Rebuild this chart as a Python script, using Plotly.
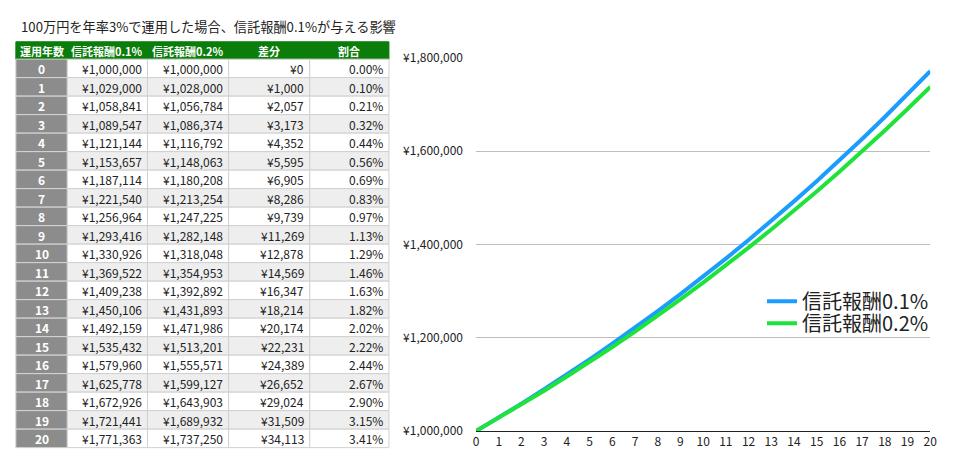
import plotly.graph_objects as go

years = list(range(21))
fee01 = [1000000, 1029000, 1058841, 1089547, 1121144, 1153657, 1187114, 1221540, 1256964, 1293416,
         1330926, 1369522, 1409238, 1450106, 1492159, 1535432, 1579960, 1625778, 1672926, 1721441, 1771363]
fee02 = [1000000, 1028000, 1056784, 1086374, 1116792, 1148063, 1180208, 1213254, 1247225, 1282148,
         1318048, 1354953, 1392892, 1431893, 1471986, 1513201, 1555571, 1599127, 1643903, 1689932, 1737250]
diff = [0, 1000, 2057, 3173, 4352, 5595, 6905, 8286, 9739, 11269,
        12878, 14569, 16347, 18214, 20174, 22231, 24389, 26652, 29024, 31509, 34113]
ratio = [0.00, 0.10, 0.21, 0.32, 0.44, 0.56, 0.69, 0.83, 0.97, 1.13,
         1.29, 1.46, 1.63, 1.82, 2.02, 2.22, 2.44, 2.67, 2.90, 3.15, 3.41]
headers = ["運用年数", "信託報酬0.1%", "信託報酬0.2%", "差分", "割合"]
series_names = ["信託報酬0.1%", "信託報酬0.2%"]
title = "100万円を年率3%で運用した場合、信託報酬0.1%が与える影響"
ytick_vals = [1000000, 1200000, 1400000, 1600000, 1800000]

W, H = 960, 466
FONT = "Noto Sans CJK JP"

def yen(v):
    return "¥{:,}".format(v)

def px_x(x):
    return x / W

def px_y(y):
    return (H - y) / H

fig = go.Figure()

colors = ["#1a9dfc", "#1ee33a"]
legend_ids = ["legend", "legend2"]
for name, vals, c, lg in zip(series_names, [fee01, fee02], colors, legend_ids):
    fig.add_trace(go.Scatter(
        x=years, y=vals, mode="lines", name=name, legend=lg,
        line=dict(color=c, width=4),
    ))

# ---- table drawn with shapes + annotations ----
col_edges = [13, 65, 146, 228, 310, 390]
head_top, head_bot = 33, 51
row_h = 19.2
shapes = []
annotations = []

def rect(x0, y0, x1, y1, fill, line):
    shapes.append(dict(type="rect", xref="paper", yref="paper",
                       x0=px_x(x0), x1=px_x(x1), y0=px_y(y1), y1=px_y(y0),
                       fillcolor=fill, line=dict(color=line, width=1), layer="below"))

def text(t, x, y, anchor, size, color, bold=False):
    annotations.append(dict(text=("<b>%s</b>" % t) if bold else t,
                            xref="paper", yref="paper", x=px_x(x), y=px_y(y),
                            xanchor=anchor, yanchor="middle", showarrow=False,
                            font=dict(family=FONT, size=size, color=color)))

rect(col_edges[0], head_top, col_edges[-1], head_bot, "#0b7d0b", "#0b7d0b")
for j, h in enumerate(headers):
    cx = (col_edges[j] + col_edges[j + 1]) / 2
    text(h, cx, (head_top + head_bot) / 2 + 0.5, "center", 11, "white", bold=True)

columns = [
    [str(y) for y in years],
    [yen(v) for v in fee01],
    [yen(v) for v in fee02],
    [yen(v) for v in diff],
    ["%.2f%%" % r for r in ratio],
]
for i in range(len(years)):
    y0 = head_bot + row_h * i
    y1 = y0 + row_h
    fill = "#ffffff" if i % 2 == 0 else "#eeeeee"
    for j in range(5):
        x0, x1 = col_edges[j], col_edges[j + 1]
        if j == 0:
            rect(x0, y0, x1, y1, "#8c8c8c", "#d4d4d4")
            text(columns[j][i], (x0 + x1) / 2, (y0 + y1) / 2 + 0.5, "center", 12, "white", bold=True)
        else:
            rect(x0, y0, x1, y1, fill, "#d0d0d0")
            text(columns[j][i], x1 - 4, (y0 + y1) / 2 + 0.5, "right", 12, "#222222")

text(title, 16, 17, "left", 13.2, "#222222")

legend_style = dict(xanchor="left", yanchor="top",
                    font=dict(family=FONT, size=20, color="#222222"),
                    bgcolor="rgba(0,0,0,0)")

fig.update_layout(
    width=W, height=H,
    margin=dict(l=0, r=0, t=0, b=0),
    paper_bgcolor="white", plot_bgcolor="white",
    font=dict(family=FONT, color="#222222"),
    shapes=shapes,
    annotations=annotations,
    xaxis=dict(
        domain=[px_x(478), px_x(937)],
        range=[0, 20], tickmode="array", tickvals=years,
        ticktext=[str(y) for y in years],
        showgrid=False, zeroline=False,
        showline=True, linecolor="#222222", linewidth=1,
        ticks="", tickfont=dict(family=FONT, size=12, color="#222222"),
    ),
    yaxis=dict(
        domain=[px_y(437), px_y(49.5)],
        range=[1000000, 1800000], tickmode="array", tickvals=ytick_vals,
        ticktext=[yen(v) for v in ytick_vals],
        showgrid=True, gridcolor="#bdbdbd", gridwidth=1,
        zeroline=False, showline=False, ticks="",
        ticklabelstandoff=12,
        tickfont=dict(family=FONT, size=12, color="#222222"),
    ),
    legend=dict(x=px_x(767), y=px_y(282), **legend_style),
    legend2=dict(x=px_x(767), y=px_y(305), **legend_style),
    showlegend=True,
)

fig.write_html("out.html")
